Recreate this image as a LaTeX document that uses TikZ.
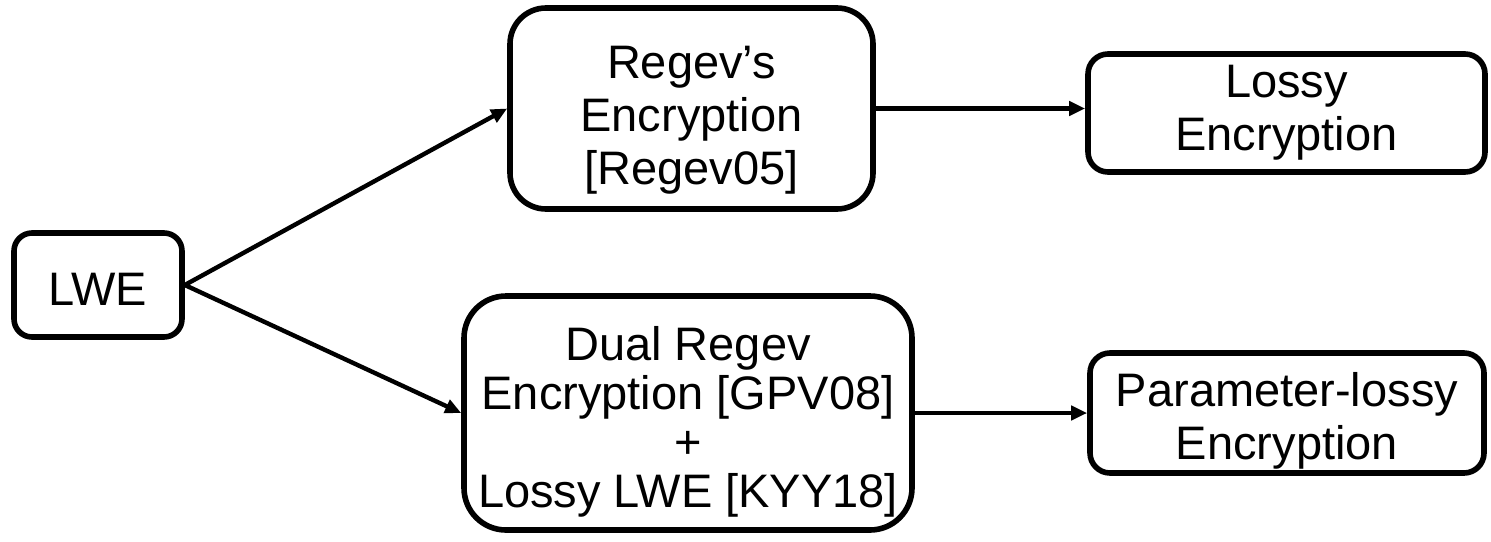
\documentclass[tikz,border=0pt]{standalone}
\usepackage{fontspec}
\setmainfont{Liberation Sans}
\usetikzlibrary{arrows.meta}
\begin{document}
\begin{tikzpicture}[x=0.5pt,y=-0.5pt,
  box/.style={draw=black, line width=2.8pt, fill=white, inner sep=0pt},
  txt/.style={align=center, inner sep=0pt, font=\fontsize{23.5}{26.5}\selectfont},
  tight/.style={font=\fontsize{23.5}{24.5}\selectfont},
  link/.style={line width=2.2pt, -{Triangle[length=8pt,width=7pt]}}]
  \useasboundingbox (0,0) rectangle (1491,541);

  % boxes
  \node[box, minimum width=168*0.5pt, minimum height=104*0.5pt, rounded corners=9pt]
    (lwe) at (98,285) {};
  \node[box, minimum width=363*0.5pt, minimum height=201*0.5pt, rounded corners=18pt]
    (regev) at (691.5,108.5) {};
  \node[box, minimum width=448*0.5pt, minimum height=234*0.5pt, rounded corners=21pt]
    (dual) at (688,413) {};
  \node[box, minimum width=397*0.5pt, minimum height=118*0.5pt, rounded corners=10pt]
    (lossy) at (1286.5,113) {};
  \node[box, minimum width=394*0.5pt, minimum height=120*0.5pt, rounded corners=10pt]
    (param) at (1287,413) {};

  % labels
  \node[txt, yshift=-2pt]   (lwe-t)   at (lwe)   {LWE};
  \node[txt, yshift=-6pt]   (regev-t) at (regev) {Regev’s\\Encryption\\{[Regev05]}};
  \node[txt, tight, yshift=-4.5pt] (dual-t) at (dual)
    {Dual Regev\\Encryption [GPV08]\\+\\Lossy LWE [KYY18]};
  \node[txt]                (lossy-t) at (lossy) {Lossy\\Encryption};
  \node[txt, yshift=-4pt]   (param-t) at (param) {Parameter-lossy\\Encryption};

  % connectors
  \draw[link] (lwe.east) -- (regev.west);
  \draw[link] (lwe.east) -- (dual.west);
  \draw[link] (regev.east) -- (lossy.west |- regev.east);
  \draw[link] (dual.east) -- (param.west);
\end{tikzpicture}
\end{document}
